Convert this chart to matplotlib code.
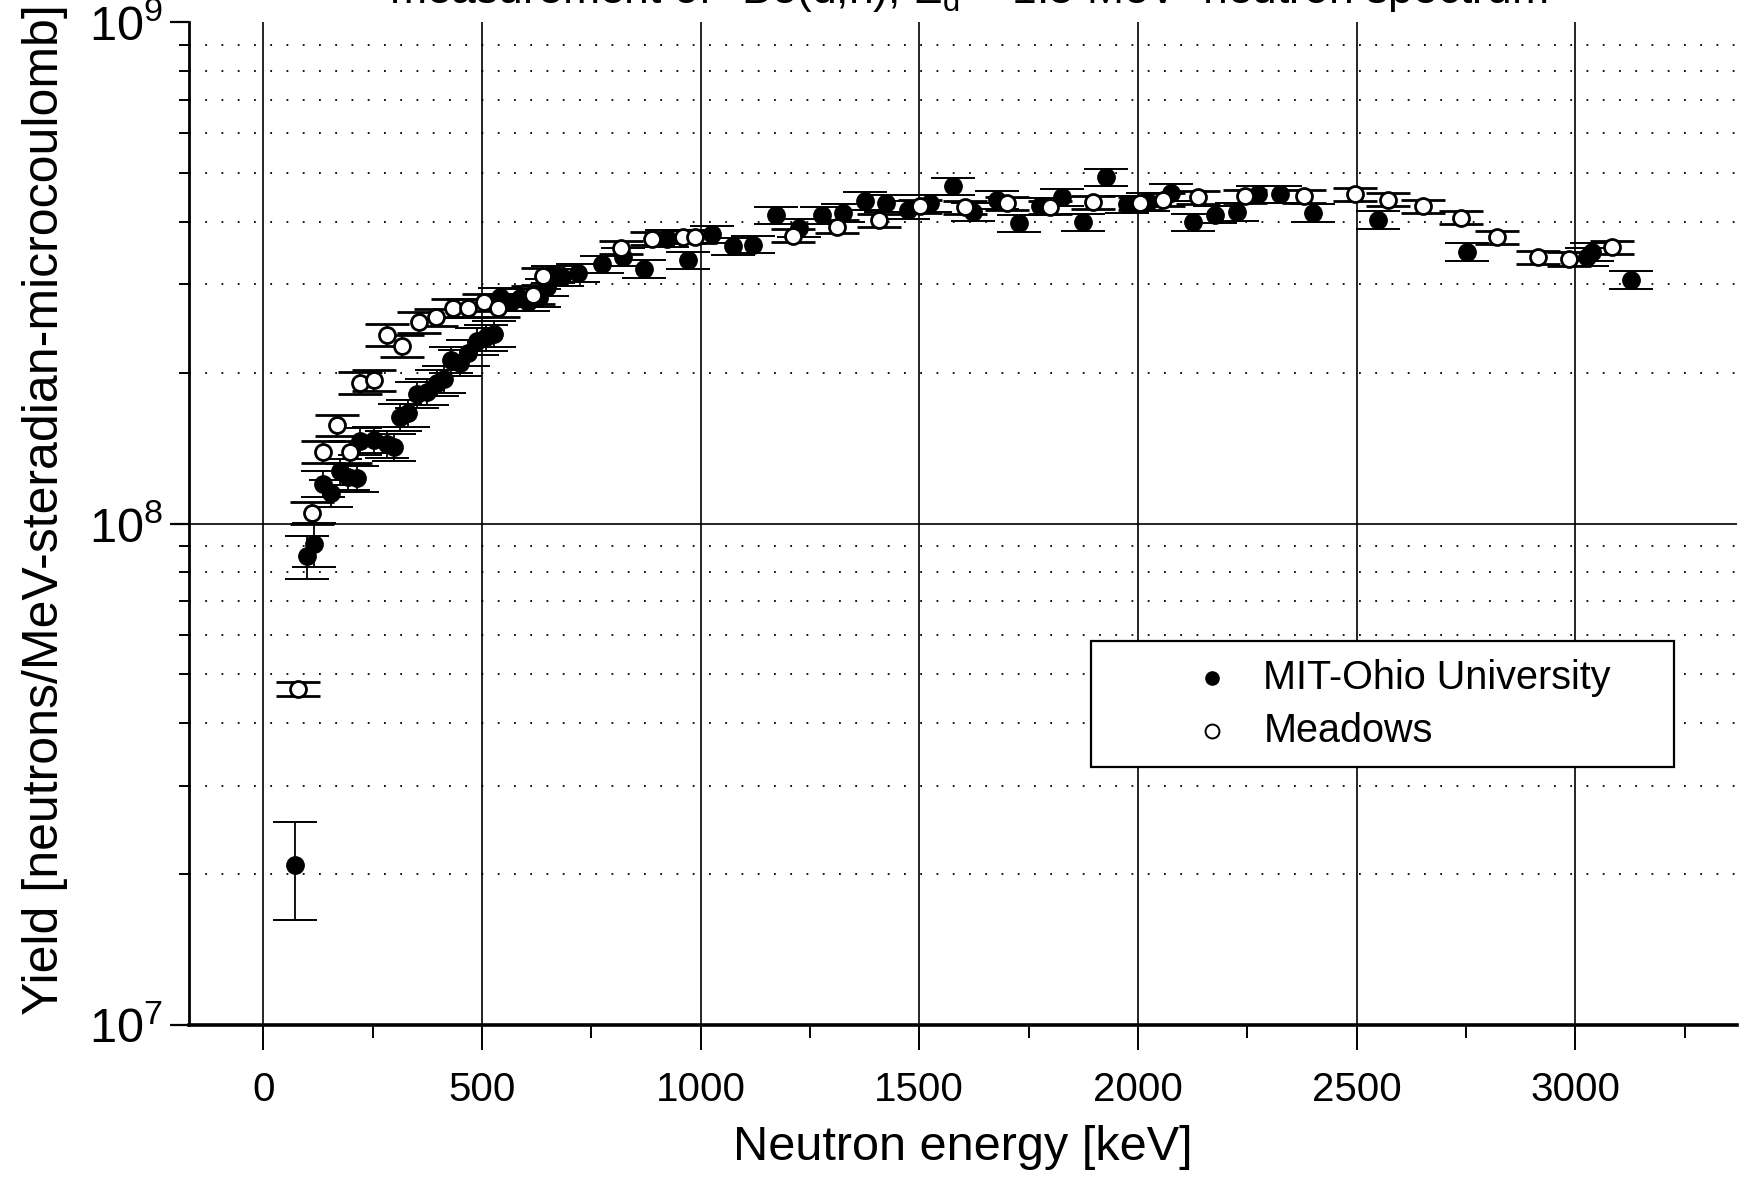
import numpy as np
import matplotlib
matplotlib.use("Agg")
import matplotlib.pyplot as plt
from matplotlib.ticker import MultipleLocator, LogLocator, NullFormatter
from matplotlib.patches import Rectangle

plt.rcParams['font.family'] = ['Liberation Sans', 'DejaVu Sans']
plt.rcParams['mathtext.fontset'] = 'custom'
plt.rcParams['mathtext.rm'] = 'Liberation Sans'
plt.rcParams['mathtext.it'] = 'Liberation Sans:italic'

# MIT-Ohio University data (energy keV, yield, relative error)
mit_energy = [72, 99, 115, 137, 155, 176, 193, 214, 221, 252, 282, 298, 313, 331,
              351, 374, 397, 412, 430, 450, 468, 489, 509, 527, 542, 567, 588, 606,
              631, 649, 662, 684, 720, 774, 822, 870, 924, 972, 1025, 1074, 1120,
              1173, 1224, 1277, 1325, 1376, 1425, 1475, 1525, 1578, 1624, 1677,
              1727, 1776, 1827, 1875, 1926, 1975, 2023, 2075, 2127, 2176, 2226,
              2275, 2326, 2401, 2549, 2753, 3028, 3038, 3127]
mit_yield = [2.08e7, 8.6e7, 9.1e7, 1.20e8, 1.15e8, 1.27e8, 1.24e8, 1.23e8, 1.46e8,
             1.47e8, 1.44e8, 1.42e8, 1.63e8, 1.66e8, 1.81e8, 1.83e8, 1.91e8, 1.94e8,
             2.12e8, 2.09e8, 2.19e8, 2.31e8, 2.35e8, 2.39e8, 2.83e8, 2.76e8, 2.82e8,
             2.76e8, 2.82e8, 2.96e8, 3.14e8, 3.10e8, 3.16e8, 3.29e8, 3.40e8, 3.22e8,
             3.70e8, 3.35e8, 3.77e8, 3.57e8, 3.60e8, 4.12e8, 3.89e8, 4.12e8, 4.16e8,
             4.40e8, 4.35e8, 4.22e8, 4.35e8, 4.70e8, 4.18e8, 4.42e8, 3.97e8, 4.29e8,
             4.47e8, 3.99e8, 4.90e8, 4.33e8, 4.38e8, 4.57e8, 3.99e8, 4.13e8, 4.18e8,
             4.53e8, 4.53e8, 4.16e8, 4.03e8, 3.48e8, 3.40e8, 3.48e8, 3.06e8]
mit_rel_err = [0.22, 0.10, 0.10, 0.06, 0.06, 0.06, 0.06, 0.06, 0.06, 0.06, 0.06,
               0.06, 0.06, 0.06, 0.06, 0.06, 0.06, 0.06, 0.06, 0.06, 0.06, 0.06,
               0.06, 0.06, 0.04, 0.04, 0.04, 0.04, 0.04, 0.04, 0.04, 0.04, 0.04,
               0.04, 0.04, 0.04, 0.04, 0.04, 0.04, 0.04, 0.04, 0.04, 0.04, 0.04,
               0.04, 0.04, 0.04, 0.04, 0.04, 0.04, 0.04, 0.04, 0.04, 0.04, 0.04,
               0.04, 0.04, 0.04, 0.04, 0.04, 0.04, 0.04, 0.04, 0.04, 0.04, 0.04,
               0.04, 0.04, 0.04, 0.04, 0.04]

# Meadows data
mea_energy = [79, 112, 137, 168, 199, 221, 252, 283, 316, 356, 394, 433, 468, 504,
              537, 616, 639, 819, 888, 959, 987, 1211, 1311, 1407, 1502, 1605, 1700,
              1799, 1898, 2005, 2058, 2137, 2245, 2379, 2497, 2572, 2652, 2738,
              2822, 2916, 2985, 3084]
mea_yield = [4.68e7, 1.05e8, 1.39e8, 1.57e8, 1.39e8, 1.91e8, 1.93e8, 2.38e8, 2.26e8,
             2.52e8, 2.58e8, 2.69e8, 2.69e8, 2.76e8, 2.69e8, 2.86e8, 3.11e8, 3.55e8,
             3.70e8, 3.73e8, 3.73e8, 3.75e8, 3.91e8, 4.03e8, 4.29e8, 4.27e8, 4.35e8,
             4.27e8, 4.37e8, 4.35e8, 4.42e8, 4.47e8, 4.49e8, 4.49e8, 4.53e8, 4.42e8,
             4.29e8, 4.07e8, 3.72e8, 3.40e8, 3.37e8, 3.56e8]
mea_rel_err = [0.03, 0.05, 0.05, 0.05, 0.05, 0.05, 0.05, 0.05, 0.05, 0.05, 0.04,
               0.04, 0.04, 0.04, 0.04, 0.04, 0.04, 0.03, 0.03, 0.03, 0.03, 0.03,
               0.03, 0.03, 0.03, 0.03, 0.03, 0.03, 0.03, 0.03, 0.03, 0.03, 0.03,
               0.03, 0.03, 0.03, 0.03, 0.03, 0.03, 0.03, 0.03, 0.03]

series_names = ['MIT-Ohio University', 'Meadows']

mit_energy = np.array(mit_energy)
mit_yield = np.array(mit_yield)
mit_err = mit_yield * np.array(mit_rel_err)
mea_energy = np.array(mea_energy)
mea_yield = np.array(mea_yield)
mea_err = mea_yield * np.array(mea_rel_err)

fig = plt.figure(figsize=(17.44, 11.84), dpi=100)
ax = fig.add_axes([189 / 1744, 1 - 1025 / 1184, 1548 / 1744, 1003 / 1184])

ax.set_yscale('log')
ax.set_xlim(-170, 3370)
ax.set_ylim(1e7, 1e9)

# grid: solid major verticals, solid 1e8 line, dotted minor horizontals
for xv in range(0, 3001, 500):
    ax.axvline(xv, color='black', lw=1.2, zorder=1)
ax.axhline(1e8, color='black', lw=1.2, zorder=1)
ax.yaxis.set_minor_locator(LogLocator(base=10, subs=np.arange(2, 10)))
ax.yaxis.set_minor_formatter(NullFormatter())
ax.grid(True, which='minor', axis='y', color='black', lw=1.3,
        linestyle=(0, (1, 8)), zorder=1)

ax.errorbar(mit_energy, mit_yield, yerr=mit_err, fmt='o', ms=12.5,
            mfc='black', mec='black', ecolor='black', elinewidth=1.3,
            capsize=16, capthick=1.4, zorder=3)
ax.errorbar(mea_energy, mea_yield, yerr=mea_err, fmt='o', ms=11.5,
            mfc='white', mec='black', mew=2.0, ecolor='black', elinewidth=1.3,
            capsize=16, capthick=1.4, zorder=4)

ax.xaxis.set_major_locator(MultipleLocator(500))
ax.xaxis.set_minor_locator(MultipleLocator(250))
ax.tick_params(axis='x', which='major', direction='out', length=18, width=1.4,
               labelsize=29, pad=15)
ax.tick_params(axis='x', which='minor', direction='out', length=9, width=1.4)
ax.tick_params(axis='y', which='major', direction='out', length=14, width=1.6,
               labelsize=35, pad=5)
ax.tick_params(axis='y', which='minor', direction='out', length=7, width=1.4)

for s in ['top', 'right']:
    ax.spines[s].set_visible(False)
ax.spines['left'].set_linewidth(2.0)
ax.spines['bottom'].set_linewidth(2.6)

ax.set_xlabel('Neutron energy [keV]', fontsize=35, labelpad=12)
ax.set_ylabel('Yield [neutrons/MeV-steradian-microcoulomb]', fontsize=36)
ax.yaxis.set_label_coords(-0.078, 0.514)

# title (cut off at the top edge as in the source)
fig.text(0.555, 1 - 5 / 1184,
         r'measurement of $^{9}$Be(d,n), E$_{\mathrm{d}}$ = 1.5 MeV  neutron spectrum',
         ha='center', va='baseline', fontsize=32)

# legend box drawn by hand to match the layout of the source
ax.add_patch(Rectangle((0.583, 0.257), 0.376, 0.126, transform=ax.transAxes,
                       facecolor='white', edgecolor='black', lw=1.6, zorder=6))
ax.plot([0.661], [0.346], 'o', ms=9.5, mfc='black', mec='black',
        transform=ax.transAxes, zorder=7, clip_on=False)
ax.plot([0.661], [0.293], 'o', ms=10, mfc='white', mec='black', mew=1.4,
        transform=ax.transAxes, zorder=7, clip_on=False)
ax.text(0.694, 0.346, series_names[0], transform=ax.transAxes, fontsize=28.5,
        ha='left', va='center', zorder=7)
ax.text(0.694, 0.293, series_names[1], transform=ax.transAxes, fontsize=28.5,
        ha='left', va='center', zorder=7)

fig.savefig('out.png', dpi=100)
